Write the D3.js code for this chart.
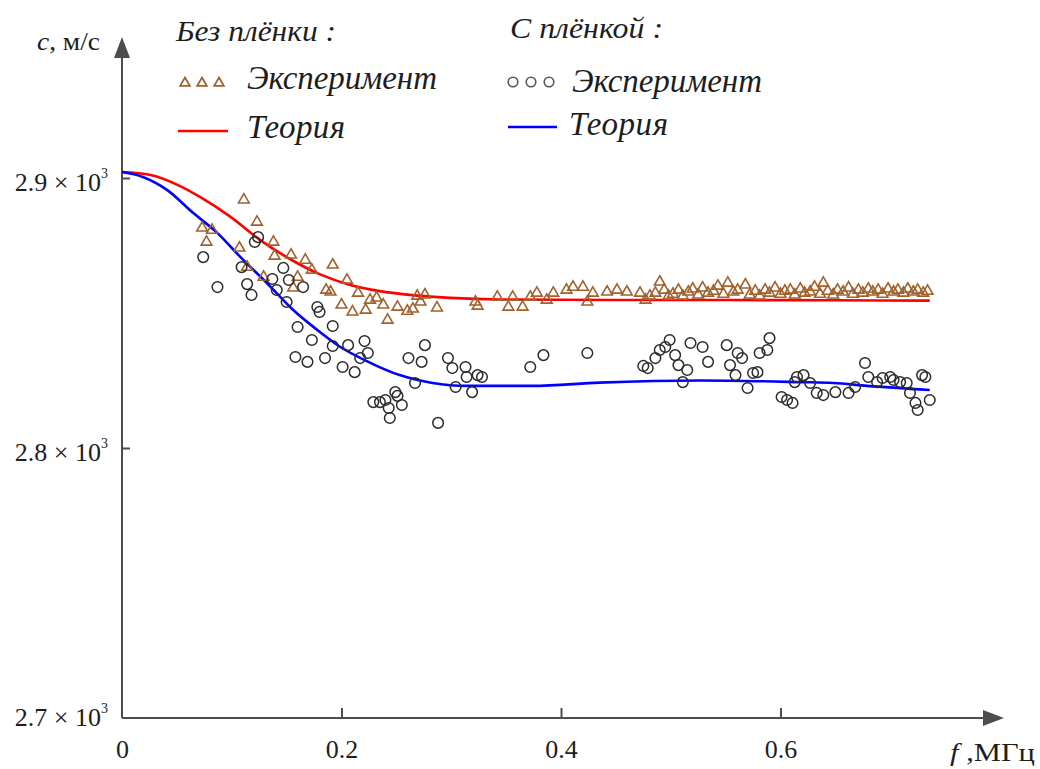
<!DOCTYPE html>
<html><head><meta charset="utf-8">
<script src="https://cdn.jsdelivr.net/npm/d3@7"></script>
<style>
html,body{margin:0;padding:0;background:#fff;}
svg{display:block;}
svg text{font-family:"Liberation Serif","Times New Roman",Times,serif;}
</style></head>
<body><svg id="chart" width="1040" height="769"></svg>
<script>
// ---- data ----
const xTicks = [0, 0.2, 0.4, 0.6];
const yTicks = [2700, 2800, 2900];

// theory curves [f (MHz), c (m/s)]
const theoryNoFilm = [[0,2902.2],[0.026,2901.1],[0.053,2897.0],[0.071,2893.0],[0.098,2885.9],[0.126,2877.0],[0.153,2870.0],[0.180,2864.4],[0.208,2860.4],[0.235,2858.1],[0.262,2856.7],[0.299,2855.6],[0.344,2855.0],[0.45,2854.8],[0.55,2854.8],[0.65,2854.7],[0.736,2854.6]];
const theoryFilm = [[0,2902.2],[0.019,2900.4],[0.041,2895.6],[0.065,2887.0],[0.087,2879.6],[0.108,2870.7],[0.132,2861.1],[0.156,2851.1],[0.178,2843.7],[0.199,2837.4],[0.223,2832.2],[0.253,2827.0],[0.283,2824.1],[0.314,2823.0],[0.374,2823.0],[0.435,2824.2],[0.527,2825.0],[0.618,2824.4],[0.648,2824.1],[0.679,2823.0],[0.736,2821.5]];

// experiment without film (triangles)
const expNoFilm = [[0.073,2881.5],[0.082,2880.7],[0.077,2876.3],[0.111,2891.9],[0.123,2883.7],[0.138,2876.3],[0.107,2874.1],[0.154,2871.5],[0.139,2871.1],[0.167,2869.6],[0.192,2867.8],[0.114,2867.0],[0.173,2865.9],[0.129,2863.3],[0.160,2863.3],[0.205,2862.2],[0.156,2859.3],[0.186,2858.5],[0.215,2857.4],[0.200,2853.0],[0.210,2850.4],[0.190,2857.8],[0.226,2854.8],[0.232,2855.6],[0.238,2853.0],[0.242,2847.4],[0.251,2852.2],[0.260,2850.7],[0.265,2851.5],[0.269,2856.3],[0.276,2856.7],[0.287,2851.9],[0.322,2854.1],[0.324,2852.6],[0.342,2855.9],[0.352,2852.2],[0.356,2855.9],[0.365,2852.2],[0.372,2855.9],[0.378,2857.4],[0.387,2854.8],[0.393,2857.4],[0.405,2858.5],[0.411,2859.6],[0.420,2859.6],[0.424,2854.1],[0.429,2857.4],[0.442,2857.8],[0.451,2858.5],[0.460,2857.8],[0.472,2857.4],[0.222,2851.1],[0.272,2854.1],
[0.477,2854.8],[0.481,2856.3],[0.486,2857.4],[0.490,2861.5],[0.494,2858.5],[0.498,2856.3],[0.502,2857.0],[0.507,2858.5],[0.511,2856.3],[0.516,2857.8],[0.520,2858.9],[0.525,2856.7],[0.529,2859.3],[0.534,2857.4],[0.539,2858.1],[0.543,2860.0],[0.548,2857.0],[0.552,2861.1],[0.557,2857.8],[0.561,2858.5],[0.568,2860.4],[0.572,2856.7],[0.577,2858.1],[0.581,2856.3],[0.586,2858.5],[0.590,2857.4],[0.595,2859.3],[0.600,2857.0],[0.604,2858.1],[0.609,2858.5],[0.613,2856.7],[0.618,2858.9],[0.622,2857.4],[0.627,2857.8],[0.631,2859.6],[0.636,2857.0],[0.639,2861.1],[0.643,2858.1],[0.648,2856.7],[0.652,2858.5],[0.657,2857.8],[0.662,2859.3],[0.666,2857.0],[0.671,2858.5],[0.675,2857.4],[0.680,2858.9],[0.684,2857.8],[0.689,2858.5],[0.693,2857.0],[0.698,2858.9],[0.703,2857.8],[0.707,2858.5],[0.712,2857.4],[0.716,2858.9],[0.721,2857.8],[0.725,2858.5],[0.730,2857.4],[0.734,2858.1]];

// experiment with film (circles)
const expFilm = [[0.074,2870.7],[0.087,2859.6],[0.124,2878.1],[0.121,2876.3],[0.109,2867.0],[0.114,2860.7],[0.118,2856.7],[0.137,2862.6],[0.147,2866.7],[0.152,2862.2],[0.141,2858.5],[0.165,2859.6],[0.150,2854.1],[0.178,2852.2],[0.180,2850.4],[0.192,2845.2],[0.160,2844.8],[0.173,2840.0],[0.158,2833.7],[0.169,2831.9],[0.185,2833.3],[0.201,2830.0],[0.212,2828.1],[0.192,2837.8],[0.206,2838.1],[0.221,2839.6],[0.224,2835.2],[0.217,2833.3],[0.229,2817.0],[0.235,2817.0],[0.240,2817.8],[0.243,2814.8],[0.244,2811.1],[0.249,2820.7],[0.251,2819.3],[0.255,2815.9],[0.261,2833.3],[0.273,2831.9],[0.276,2838.1],[0.267,2824.1],[0.288,2809.3],[0.297,2833.3],[0.301,2829.6],[0.313,2830.0],[0.314,2826.3],[0.324,2827.0],[0.328,2826.3],[0.304,2822.6],[0.319,2820.7],[0.372,2830.0],[0.384,2834.4],[0.424,2835.2],[0.475,2830.4],[0.479,2829.6],[0.486,2833.3],[0.490,2836.3],[0.495,2837.4],[0.499,2840.0],[0.504,2834.4],[0.507,2830.7],[0.515,2828.9],[0.511,2824.4],[0.518,2838.9],[0.529,2837.4],[0.534,2831.9],[0.551,2838.1],[0.554,2830.7],[0.559,2827.0],[0.561,2835.2],[0.565,2833.3],[0.570,2822.2],[0.575,2827.8],[0.579,2828.1],[0.581,2835.2],[0.588,2836.3],[0.590,2840.7],[0.601,2818.9],[0.606,2817.8],[0.611,2816.7],[0.615,2826.3],[0.621,2827.0],[0.613,2824.4],[0.627,2824.1],[0.633,2820.4],[0.639,2819.6],[0.650,2820.7],[0.662,2820.4],[0.668,2822.6],[0.677,2831.5],[0.680,2826.3],[0.688,2824.4],[0.693,2825.9],[0.700,2826.3],[0.703,2825.2],[0.709,2824.4],[0.715,2824.1],[0.718,2820.4],[0.723,2816.7],[0.725,2814.1],[0.729,2827.0],[0.732,2826.3],[0.736,2817.8]];

// ---- drawing ----
const svg = d3.select("#chart");
const x = d3.scaleLinear().domain([0, 0.6]).range([122, 780.5]);
const y = d3.scaleLinear().domain([2700, 2900]).range([718, 178]);
const axisColor = "#4d4d4d";
const textColor = "#1e1e1e";
const triColor = "#a0622d";

// axes lines with arrows
const x0 = x(0), y0 = y(2700);
svg.append("line").attr("x1", x0).attr("y1", y0).attr("x2", x0).attr("y2", 52)
  .attr("stroke", axisColor).attr("stroke-width", 2);
svg.append("path").attr("d", `M${x0},37 L${x0-8},58 L${x0+8},58 Z`).attr("fill", axisColor);
svg.append("line").attr("x1", x0).attr("y1", y0).attr("x2", 990).attr("y2", y0)
  .attr("stroke", axisColor).attr("stroke-width", 2);
svg.append("path").attr("d", `M1004,${y0} L983,${y0-8} L983,${y0+8} Z`).attr("fill", axisColor);

// x axis ticks + labels
const gx = svg.append("g").attr("transform", `translate(0,${y0})`)
  .call(d3.axisBottom(x).tickValues(xTicks).tickSize(-10).tickPadding(22)
    .tickFormat(d => d === 0 ? "0" : d3.format(".1f")(d)));
gx.select(".domain").remove();
gx.selectAll(".tick line").attr("stroke", axisColor).attr("stroke-width", 2)
  .filter(d => d === 0).remove();
gx.selectAll(".tick text").attr("font-size", 26).attr("fill", textColor);

// y axis ticks + labels
const gy = svg.append("g").attr("transform", `translate(${x0},0)`)
  .call(d3.axisLeft(y).tickValues(yTicks).tickSize(-8).tickPadding(14).tickFormat(""));
gy.select(".domain").remove();
gy.selectAll(".tick line").attr("stroke", axisColor).attr("stroke-width", 2)
  .filter(d => d === 2700).remove();
gy.selectAll(".tick text").remove();
gy.selectAll(".tick").each(function(d) {
  const t = d3.select(this).append("text")
    .attr("x", -14).attr("y", d === 2700 ? 7 : 12)
    .attr("text-anchor", "end").attr("font-size", 26).attr("fill", textColor);
  t.append("tspan").text((d / 1000).toFixed(1) + " \u00d7 10");
  t.append("tspan").attr("font-size", 14).attr("dy", -13).text("3");
});

// axis titles
const yt = svg.append("text").attr("x", 37).attr("y", 50).attr("font-size", 26).attr("fill", textColor)
  .attr("textLength", 63).attr("lengthAdjust", "spacingAndGlyphs");
yt.append("tspan").attr("font-style", "italic").text("c");
yt.append("tspan").text(", м/с");
const xt = svg.append("text").attr("x", 950).attr("y", 761).attr("font-size", 26).attr("fill", textColor)
  .attr("textLength", 85).attr("lengthAdjust", "spacingAndGlyphs");
xt.append("tspan").attr("font-style", "italic").text("f");
xt.append("tspan").text(" ,МГц");

// theory lines
const line = d3.line().x(d => x(d[0])).y(d => y(d[1])).curve(d3.curveMonotoneX);
svg.append("path").datum(theoryNoFilm).attr("d", line).attr("fill", "none")
  .attr("stroke", "#ff0000").attr("stroke-width", 2.6);
svg.append("path").datum(theoryFilm).attr("d", line).attr("fill", "none")
  .attr("stroke", "#0000ff").attr("stroke-width", 2.6);

// experiment markers
const tri = d3.symbol().type(d3.symbolTriangle).size(50);
svg.append("g").selectAll("path").data(expNoFilm).join("path")
  .attr("d", tri).attr("transform", d => `translate(${x(d[0])},${y(d[1])})`)
  .attr("fill", "none").attr("stroke", triColor).attr("stroke-width", 1.6);
svg.append("g").selectAll("circle").data(expFilm).join("circle")
  .attr("cx", d => x(d[0])).attr("cy", d => y(d[1])).attr("r", 5.3)
  .attr("fill", "none").attr("stroke", "#2b2b2b").attr("stroke-width", 1.5);

// legend
const legendText = (tx, ty, str, size, len, adj) => svg.append("text").attr("x", tx).attr("y", ty)
  .attr("font-size", size).attr("font-style", "italic").attr("fill", textColor)
  .attr("textLength", len).attr("lengthAdjust", adj).text(str);
legendText(176, 41, "Без плёнки :", 29, 160, "spacingAndGlyphs");
legendText(247, 89, "Эксперимент", 33, 190, "spacing");
legendText(247, 138, "Теория", 33, 98, "spacing");
legendText(510, 38, "С плёнкой :", 29, 153, "spacingAndGlyphs");
legendText(572, 92, "Эксперимент", 33, 190, "spacing");
legendText(569, 135, "Теория", 33, 99, "spacing");

const legTri = d3.symbol().type(d3.symbolTriangle).size(40);
[185, 202, 219].forEach(cx => svg.append("path").attr("d", legTri)
  .attr("transform", `translate(${cx},83)`).attr("fill", "none")
  .attr("stroke", triColor).attr("stroke-width", 1.8));
[513, 531, 549].forEach(cx => svg.append("circle").attr("cx", cx).attr("cy", 82).attr("r", 4.8)
  .attr("fill", "none").attr("stroke", "#555").attr("stroke-width", 1.6));
svg.append("line").attr("x1", 178).attr("x2", 228).attr("y1", 131).attr("y2", 131)
  .attr("stroke", "#ff0000").attr("stroke-width", 2.6);
svg.append("line").attr("x1", 508).attr("x2", 557).attr("y1", 127).attr("y2", 127)
  .attr("stroke", "#0000ff").attr("stroke-width", 2.6);
</script>
</body></html>
